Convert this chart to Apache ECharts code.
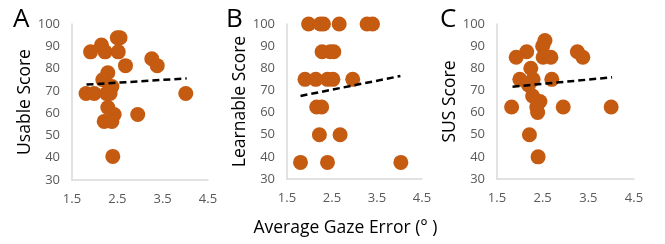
<!DOCTYPE html>
<html>
<head>
<meta charset="utf-8">
<script src="https://cdn.jsdelivr.net/npm/echarts@6/dist/echarts.min.js"></script>
<style>
  html, body { margin: 0; padding: 0; background: #fff; }
  #main { width: 665px; height: 244px; }
</style>
</head>
<body>
<div id="main"></div>
<script>
// gaze error (deg) vs score, one point per participant
const usablePts = [
  [2.50, 93.8], [2.56, 93.8], [1.91, 87.5], [2.15, 90.6], [2.23, 87.5], [2.52, 87.5],
  [3.26, 84.4], [3.38, 81.3], [2.68, 81.3], [2.29, 78.1], [2.18, 75.0], [2.38, 71.9],
  [1.81, 68.8], [1.99, 68.8], [2.26, 68.8], [2.34, 68.8], [4.01, 68.8], [2.29, 62.5],
  [2.43, 59.4], [2.95, 59.4], [2.21, 56.3], [2.38, 56.3], [2.40, 40.6]
];
const learnablePts = [
  [1.98, 100], [2.24, 100], [2.31, 100], [2.66, 100], [3.28, 100], [3.40, 100],
  [2.28, 87.5], [2.46, 87.5], [2.54, 87.5],
  [1.90, 75], [2.14, 75], [2.40, 75], [2.52, 75], [2.96, 75],
  [2.16, 62.5], [2.27, 62.5],
  [2.22, 50], [2.68, 50],
  [1.80, 37.5], [2.40, 37.5], [4.03, 37.5]
];
const susPts = [
  [2.55, 92.5], [2.50, 90.0], [2.15, 87.5], [1.92, 85.0], [2.51, 85.0], [2.68, 85.0],
  [3.26, 87.5], [3.38, 85.0], [2.24, 80.0], [2.00, 75.0], [2.29, 75.0], [2.70, 75.0],
  [2.19, 72.5], [2.28, 67.5], [2.44, 65.0], [2.37, 62.5], [2.39, 60.0], [1.82, 62.5],
  [2.95, 62.5], [4.00, 62.5], [2.21, 50.0], [2.40, 40.0]
];
// linear trendlines (endpoints)
const usableTrend = [[1.82, 72.8], [4.03, 75.6]];
const learnableTrend = [[1.80, 67.5], [4.02, 76.5]];
const susTrend = [[1.84, 71.7], [4.02, 75.9]];

const xTicks = [1.5, 4.5, 1];   // min, max, step
const yTicks = [30, 100, 10];
const yTitles = ['Usable Score', 'Learnable Score', 'SUS Score'];
const letters = ['A', 'B', 'C'];

const font = 'Open Sans, Noto Sans, sans-serif';
const dotColor = '#C55A11';
const grids = [
  { left: 72, top: 24, width: 136, height: 156 },
  { left: 287, top: 24, width: 135, height: 155 },
  { left: 497, top: 24, width: 137, height: 155 }
];
const letterPos = [[13, 7], [226, 7], [440, 7]];

const chart = echarts.init(document.getElementById('main'));

const axisLine = { show: true, lineStyle: { color: '#d9d9d9', width: 1.5 } };
const xAxis = grids.map((g, i) => ({
  type: 'value', gridIndex: i,
  min: xTicks[0], max: xTicks[1], interval: xTicks[2],
  axisLine: axisLine, axisTick: { show: false }, splitLine: { show: false },
  axisLabel: { color: '#595959', fontSize: 13, fontFamily: font, margin: 13,
    formatter: v => v.toFixed(1) },
  name: i === 1 ? 'Average Gaze Error (° )' : '',
  nameLocation: 'middle', nameGap: 40,
  nameTextStyle: { color: '#000', fontSize: 17.5, fontFamily: font, padding: [0, 18, 0, 0] }
}));
const yAxis = grids.map((g, i) => ({
  type: 'value', gridIndex: i,
  min: yTicks[0], max: yTicks[1], interval: yTicks[2],
  axisLine: axisLine, axisTick: { show: false }, splitLine: { show: false },
  axisLabel: { color: '#595959', fontSize: 13, fontFamily: font, margin: 12 },
  name: yTitles[i], nameLocation: 'middle', nameGap: 38,
  nameTextStyle: { color: '#000', fontSize: 17.5, fontFamily: font }
}));

const pts = [usablePts, learnablePts, susPts];
const trends = [usableTrend, learnableTrend, susTrend];
const series = [];
pts.forEach((d, i) => {
  series.push({
    type: 'scatter', xAxisIndex: i, yAxisIndex: i, data: d,
    symbolSize: 15, itemStyle: { color: dotColor, opacity: 1 }, silent: true
  });
  series.push({
    type: 'line', xAxisIndex: i, yAxisIndex: i, data: trends[i],
    symbol: 'none', z: 3, silent: true,
    lineStyle: { color: '#000', width: 2.5, type: [7, 4] }
  });
});

chart.setOption({
  animation: false,
  grid: grids,
  xAxis: xAxis,
  yAxis: yAxis,
  series: series,
  graphic: letters.map((t, i) => ({
    type: 'text', left: letterPos[i][0], top: letterPos[i][1],
    style: { text: t, fontSize: 26, fontFamily: font, fill: '#000' }
  }))
});
</script>
</body>
</html>
